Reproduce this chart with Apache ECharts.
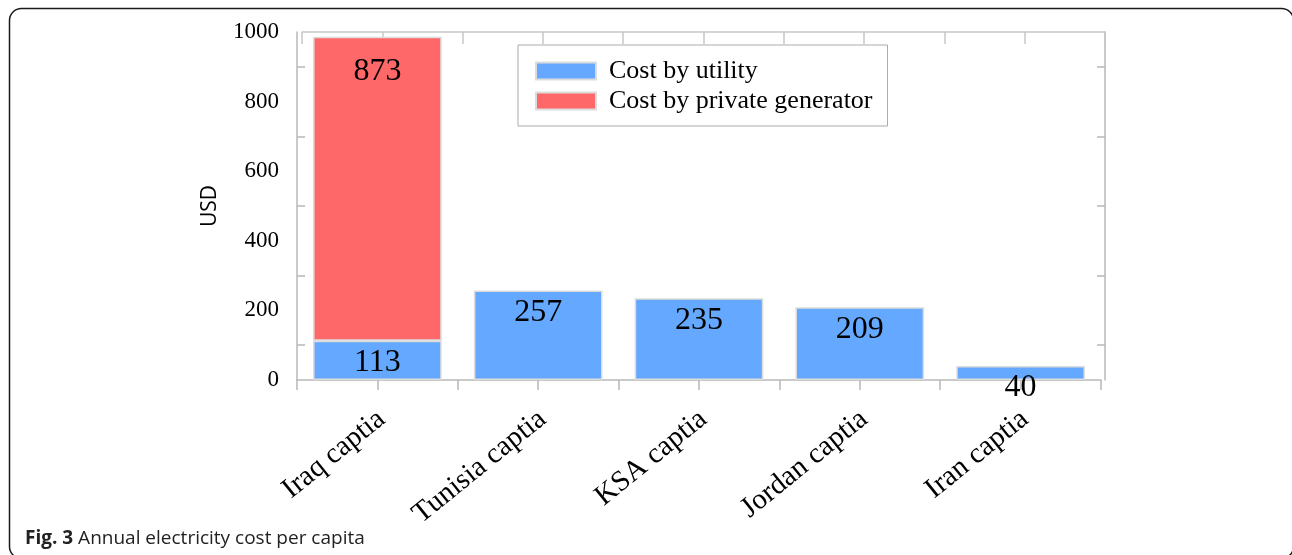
<!DOCTYPE html>
<html>
<head>
<meta charset="utf-8">
<script src="https://cdn.jsdelivr.net/npm/echarts@6/dist/echarts.min.js"></script>
<style>
  html, body { margin: 0; padding: 0; background: #fff; }
  #chart { width: 1292px; height: 555px; }
</style>
</head>
<body>
<div id="chart"></div>
<script>
// Annual electricity cost per capita (USD), stacked by source
const categories = ['Iraq captia', 'Tunisia captia', 'KSA captia', 'Jordan captia', 'Iran captia'];
const utilityCost = [113, 257, 235, 209, 40];
const generatorCost = [873, null, null, null, null];
const seriesNames = ['Cost by utility', 'Cost by private generator'];
const yMin = 0, yMax = 1000, yStep = 200;
const captionBold = 'Fig. 3';
const captionText = 'Annual electricity cost per capita';

const AXIS = '#b8b8b8';
const SERIF = '"Liberation Serif", "Times New Roman", serif';
const SANS = '"Open Sans", "Liberation Sans", sans-serif';

const chart = echarts.init(document.getElementById('chart'), null, { renderer: 'canvas' });

const barLabel = (distance) => ({
  show: true,
  position: 'insideTop',
  distance: distance,
  color: '#000',
  fontFamily: SERIF,
  fontSize: 32
});

chart.setOption({
  animation: false,
  backgroundColor: '#fff',
  grid: [
    { left: 297, top: 32, width: 804, height: 348 },
    { left: 302, top: 32, width: 803, height: 348 }
  ],
  legend: {
    data: seriesNames,
    orient: 'vertical',
    left: 518,
    top: 45,
    padding: [13, 15, 12, 17],
    itemWidth: 60,
    itemHeight: 17,
    itemGap: 4,
    icon: 'rect',
    borderColor: '#aaa',
    borderWidth: 1,
    textStyle: { color: '#000', fontFamily: SERIF, fontSize: 26, lineHeight: 26, padding: [0, 0, 0, 8] }
  },
  xAxis: [
    {
      type: 'category',
      gridIndex: 0,
      data: categories,
      axisLine: { show: true, onZero: false, lineStyle: { color: AXIS, width: 1.5 } },
      axisTick: { show: false },
      axisLabel: {
        interval: 0,
        rotate: 39,
        margin: 0,
        verticalAlign: 'top',
        padding: [16, 19, 0, 0],
        color: '#000',
        fontFamily: SERIF,
        fontSize: 29
      }
    },
    {
      type: 'value',
      gridIndex: 0,
      position: 'bottom',
      min: 0, max: 10, interval: 1,
      axisLine: { show: false, onZero: false },
      axisTick: { show: true, length: 10, lineStyle: { color: AXIS, width: 1.5 } },
      axisLabel: { show: false },
      splitLine: { show: false }
    },
    {
      type: 'value',
      gridIndex: 1,
      position: 'top',
      min: 0, max: 10, interval: 1,
      axisLine: { show: true, onZero: false, lineStyle: { color: '#c8c8c8', width: 1.5 } },
      axisTick: { show: true, inside: true, length: 12, lineStyle: { color: '#c8c8c8', width: 1.5 } },
      axisLabel: { show: false },
      splitLine: { show: false }
    }
  ],
  yAxis: [
    {
      type: 'value',
      gridIndex: 0,
      min: yMin, max: yMax, interval: yStep,
      name: 'USD',
      nameLocation: 'middle',
      nameGap: 76,
      nameTextStyle: { color: '#000', fontFamily: SANS, fontSize: 21 },
      axisLine: { show: true, onZero: false, lineStyle: { color: AXIS, width: 1.5 } },
      axisTick: { show: false, inside: true },
      minorTick: { show: true, splitNumber: 2, length: 8, lineStyle: { color: AXIS, width: 1.5 } },
      axisLabel: { color: '#000', fontFamily: SERIF, fontSize: 23, margin: 18, formatter: (v) => String(v) },
      splitLine: { show: false },
      minorSplitLine: { show: false }
    },
    {
      type: 'value',
      gridIndex: 1,
      position: 'right',
      min: yMin, max: yMax, interval: yStep,
      axisLine: { show: true, onZero: false, lineStyle: { color: AXIS, width: 1.5 } },
      axisTick: { show: false, inside: true },
      minorTick: { show: true, splitNumber: 2, length: 8, lineStyle: { color: AXIS, width: 1.5 } },
      axisLabel: { show: false },
      splitLine: { show: false },
      minorSplitLine: { show: false }
    }
  ],
  series: [
    {
      name: seriesNames[0],
      type: 'bar',
      stack: 'total',
      xAxisIndex: 0,
      yAxisIndex: 0,
      barCategoryGap: '20%',
      data: utilityCost,
      itemStyle: { color: '#64a8ff', borderColor: '#dcdcdc', borderWidth: 1.5 },
      label: barLabel(6)
    },
    {
      name: seriesNames[1],
      type: 'bar',
      stack: 'total',
      xAxisIndex: 0,
      yAxisIndex: 0,
      barCategoryGap: '20%',
      data: generatorCost,
      itemStyle: { color: '#ff6868', borderColor: '#dcdcdc', borderWidth: 1.5 },
      label: barLabel(19)
    }
  ],
  graphic: [
    {
      type: 'rect',
      silent: true,
      shape: { x: 9.5, y: 8.5, width: 1284, height: 550, r: 12 },
      style: { fill: 'none', stroke: '#1a1a1a', lineWidth: 1.5 }
    },
    {
      type: 'text',
      left: 25,
      top: 529,
      style: {
        text: '{b|' + captionBold + '} ' + captionText,
        fontFamily: SANS,
        fontSize: 19,
        fill: '#222',
        rich: {
          b: { fontFamily: SANS, fontSize: 19, fontWeight: 'bold', fill: '#222' }
        }
      }
    }
  ]
});
</script>
</body>
</html>
